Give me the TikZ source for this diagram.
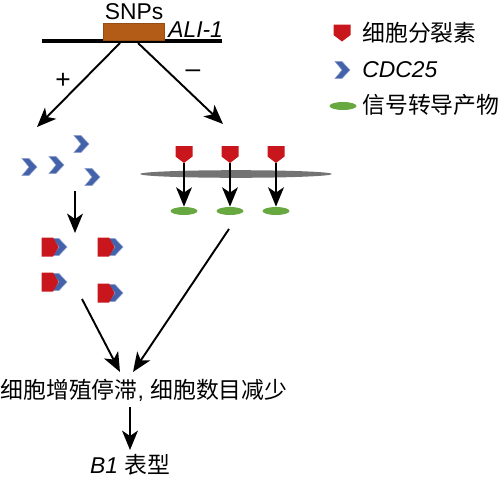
\documentclass[tikz,border=0pt]{standalone}
\usepackage{fontspec}
\setmainfont{Liberation Sans}
\newfontfamily\cjk{Noto Sans CJK SC}
\usetikzlibrary{arrows.meta,shapes.geometric}
\definecolor{cytored}{RGB}{200,22,28}
\definecolor{cdcblue}{RGB}{68,98,170}
\definecolor{siggreen}{RGB}{104,168,64}
\definecolor{snporange}{RGB}{178,92,24}
\definecolor{membgray}{RGB}{115,115,115}

\begin{document}
\begin{tikzpicture}[x=0.02cm,y=-0.02cm,>={Stealth[length=11pt,width=9pt,inset=3pt]},
  every node/.style={font=\fontsize{13}{15}\selectfont,inner sep=0pt},
  flow/.style={->,line width=1.1pt},
  sign/.style={font=\fontsize{15}{17}\selectfont},
  signal/.style={ellipse,fill=siggreen,minimum width=0.54cm,minimum height=0.16cm},
  cyto/.pic={\fill[cytored] (-8.5,-8.5)--(8.5,-8.5)--(8.5,2)--(0,8.5)--(-8.5,2)--cycle;
    \coordinate (-tip) at (0,8.5);},
  cdc/.pic={\fill[cdcblue,draw=cdcblue!60!white,line width=0.3pt]
    (-8,-8.5)--(-1,-8.5)--(7,0)--(-1,8.5)--(-8,8.5)--(-1,0)--cycle;},
  bound/.pic={\pic at (10,0) {cdc};
    \fill[cytored] (-8.5,-9.5)--(3,-9.5)--(8.5,0)--(3,9.5)--(-8.5,9.5)--cycle;}]
\useasboundingbox (0,0) rectangle (500,477);
% gene with SNPs
\draw[line width=2.3pt] (42,41) -- (222,41);
\node[fill=snporange,draw=snporange!85!black,line width=0.4pt,minimum width=1.22cm,minimum height=0.34cm] (snp) at (133.5,31.5) {};
\node (snplabel) at (134,12) {SNPs};
\node[anchor=west,font=\fontsize{13}{15}\selectfont\itshape] (gene) at (168,30) {ALI-1};
\coordinate (splitL) at (120,43);
\coordinate (splitR) at (138,43);
\coordinate (cdcin) at (37,127);
\coordinate (memin) at (223,124);
\draw[flow] (splitL) -- (cdcin);
\draw[flow] (splitR) -- (memin);
\node[sign] (plus) at (63,81) {+};
\node[sign] (minus) at (193,74) {–};
% legend
\pic (legcyto) at (342,33) {cyto};
\node[anchor=west] (legcytot) at (362,33) {\cjk 细胞分裂素};
\pic (legcdc) at (343,70) {cdc};
\node[anchor=west,font=\fontsize{13}{15}\selectfont\itshape] (legcdct) at (362,70) {CDC25};
\node[signal] (legsig) at (343,106) {};
\node[anchor=west] (legsigt) at (362,105) {\cjk 信号转导产物};
% free CDC25
\pic (c1) at (30,167) {cdc};
\pic (c2) at (57,165) {cdc};
\pic (c3) at (82,144) {cdc};
\pic (c4) at (93,177) {cdc};
\coordinate (bindout) at (75,191);
\coordinate (bindin) at (75,233);
\draw[flow] (bindout) -- (bindin);
% bound CDC25
\pic (b1) at (50,247) {bound};
\pic (b2) at (106,247) {bound};
\pic (b3) at (50,282) {bound};
\pic (b4) at (106,293) {bound};
% membrane
\fill[membgray] (236,174) ellipse [x radius=96,y radius=3.8];
\foreach \x [count=\i] in {184,230,276}{
  \pic (m\i) at (\x,154.5) {cyto};
  \node[signal] (s\i) at (\x,211) {};
  \draw[flow] (m\i-tip) -- (s\i);
}
% outcome
\node (result) at (144,390) {{\cjk 细胞增殖停滞}, {\cjk 细胞数目减少}};
\node (pheno) at (130,465) {\textit{B1} {\cjk 表型}};
\coordinate (boundout) at (82,299);
\coordinate (memout) at (229,229);
\coordinate (resinL) at (120,372);
\coordinate (resinR) at (133,372);
\coordinate (resout) at (130,407);
\coordinate (phenin) at (130,450);
\draw[flow] (boundout) -- (resinL);
\draw[flow] (memout) -- (resinR);
\draw[flow] (resout) -- (phenin);
\end{tikzpicture}
\end{document}
